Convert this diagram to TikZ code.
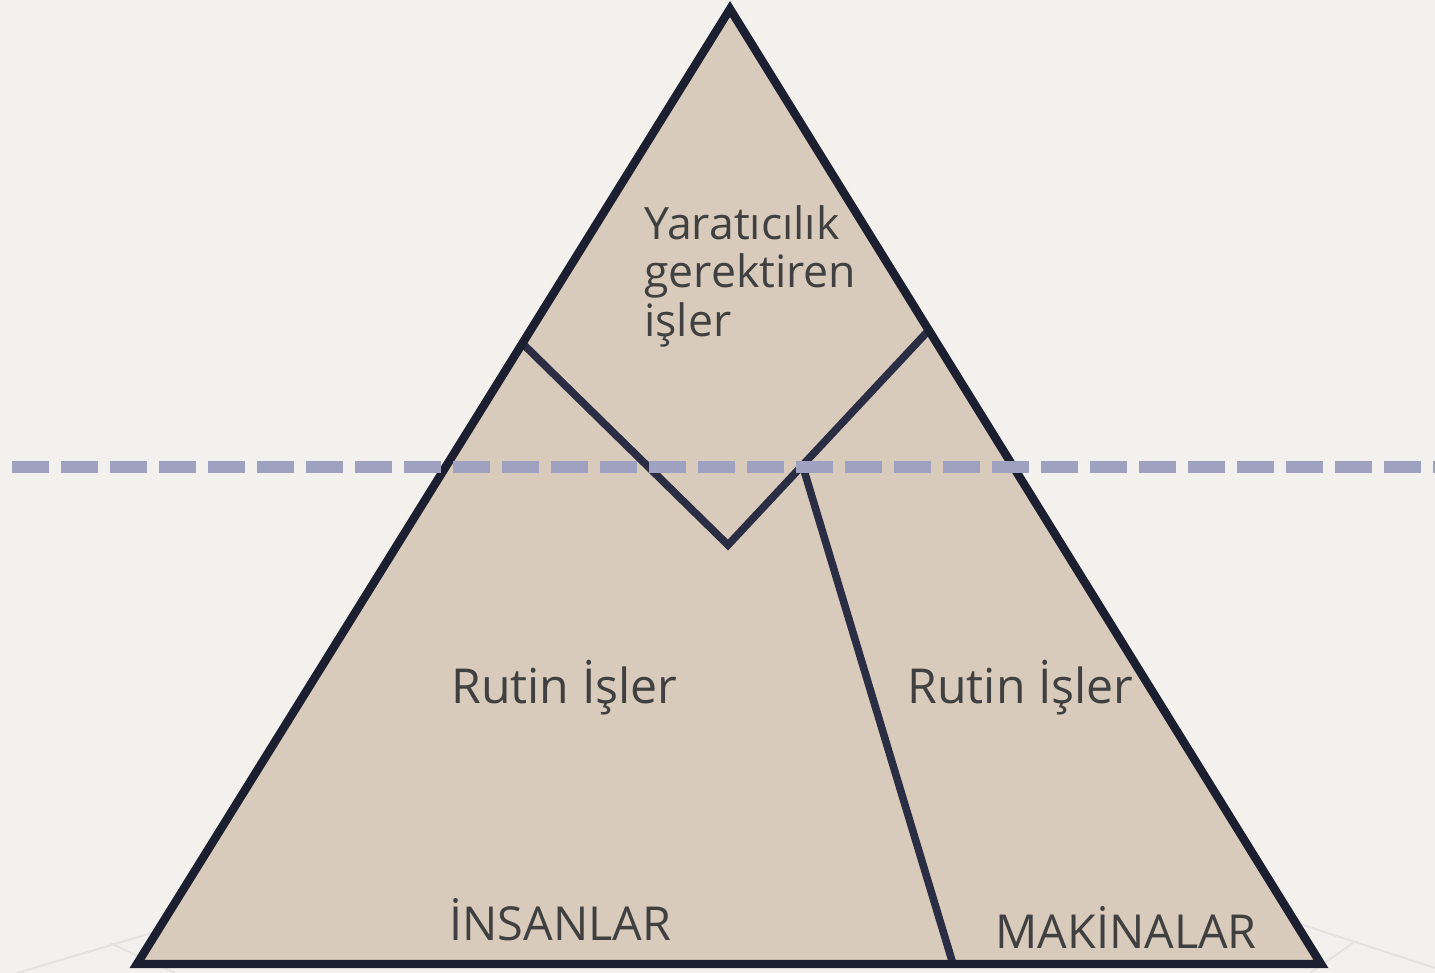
\documentclass[tikz,border=0pt]{standalone}
\usepackage{fontspec}
\setmainfont{Open Sans}
\definecolor{bgc}{HTML}{F2F1EE}
\definecolor{fillc}{HTML}{D8CBBB}
\definecolor{edgec}{HTML}{1C1F30}
\definecolor{innerc}{HTML}{2B2D45}
\definecolor{dashc}{HTML}{9EA2C0}
\definecolor{textc}{HTML}{404040}
\definecolor{faintc}{HTML}{E4E3E1}
\tikzset{
  lbl/.style={inner sep=0pt, anchor=base west, text=textc},
  innerline/.style={draw=innerc, line width=3.8pt, line join=miter},
  faint/.style={draw=faintc, line width=1pt},
}
\begin{document}
\begin{tikzpicture}[x=0.5pt, y=-0.5pt]
\useasboundingbox (0,0) rectangle (1435,973);
\fill[bgc] (0,0) rectangle (1435,973);
% faint background lines
\draw[faint] (17,973) -- (330,880);
\draw[faint] (110,943) -- (175,973);
\draw[faint] (1180,885) -- (1435,968);
\draw[faint] (1353,943) -- (1310,973);
% triangle
\coordinate (A) at (730,9);
\coordinate (BL) at (137,964);
\coordinate (BR) at (1321,964);
\fill[fillc] (A) -- (BL) -- (BR) -- cycle;
% inner lines
\coordinate (VL) at (522,343);
\coordinate (VB) at (728,545);
\coordinate (VR) at (929,330);
\coordinate (DT) at (803,467);
\coordinate (DB) at (953,964);
\draw[innerline] (VL) -- (VB) -- (VR);
\draw[innerline] (DT) -- (DB);
% outline
\draw[edgec, line width=4.2pt, line join=miter] (A) -- (BL) -- (BR) -- cycle;
% dashed line
\coordinate (DL) at (12,467);
\coordinate (DR) at (1435,467);
\draw[dashc, line width=6pt, dash pattern=on 18.5pt off 6pt] (DL) -- (DR);
% labels
\node[lbl, font=\fontsize{22.3}{24}\selectfont] (t1) at (644,240) {Yaratıcılık};
\node[lbl, font=\fontsize{22.3}{24}\selectfont] (t2) at (644,288) {gerektiren};
\node[lbl, font=\fontsize{22.3}{24}\selectfont] (t3) at (644,336) {işler};
\node[lbl, font=\fontsize{24.1}{26}\selectfont] (r1) at (451,703) {Rutin İşler};
\node[lbl, font=\fontsize{24.1}{26}\selectfont] (r2) at (907,703) {Rutin İşler};
\node[lbl, font=\fontsize{23.4}{25}\selectfont] (h) at (449,940) {İNSANLAR};
\node[lbl, font=\fontsize{23.4}{25}\selectfont] (m) at (995,948) {MAKİNALAR};
\end{tikzpicture}
\end{document}
